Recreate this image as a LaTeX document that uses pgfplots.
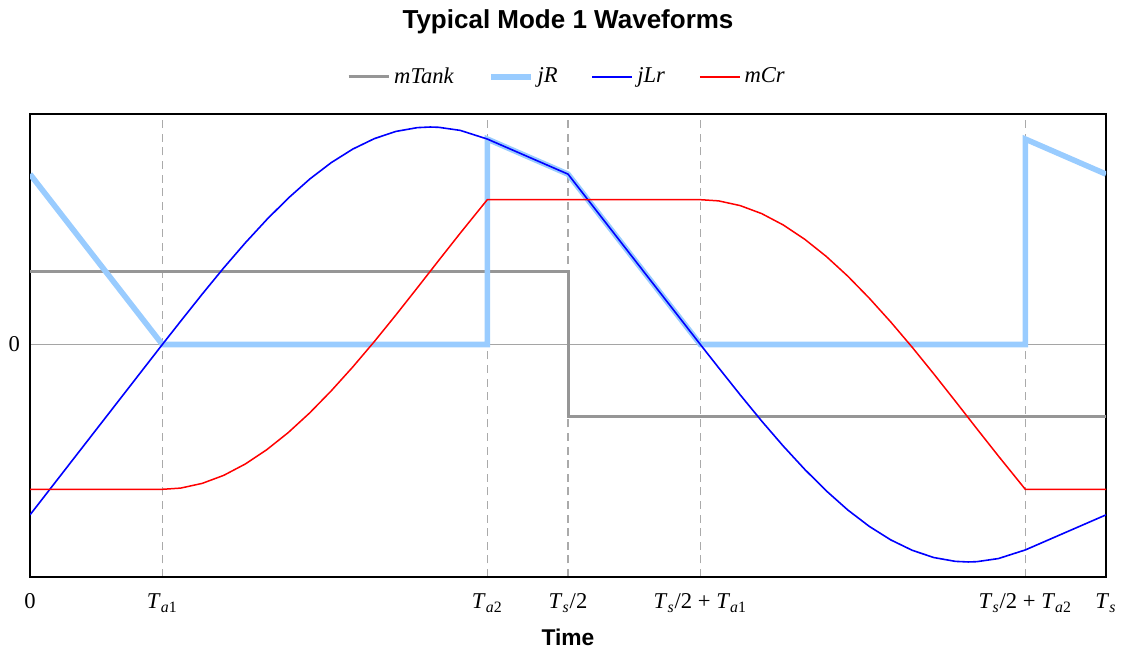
\documentclass[border=0pt]{standalone}
\usepackage{pgfplots}
\pgfplotsset{compat=1.18}
\usepackage{fontspec}
\setmainfont{Liberation Serif}
\newfontfamily\arialfont{Liberation Sans}
\definecolor{tankgray}{RGB}{150,150,150}
\definecolor{jrblue}{RGB}{153,204,255}
\definecolor{zerogray}{RGB}{165,165,165}
\definecolor{gridgray}{RGB}{170,170,170}
\newcommand{\Ts}{\textit{T}\textsubscript{\textit{s}}}
\newcommand{\Ta}[1]{\textit{T}\textsubscript{\textit{a}#1}}
\begin{document}
\begin{tikzpicture}
\begin{axis}[
  name=ax, scale only axis, width=538pt, height=231.5pt,
  xmin=0, xmax=1, ymin=-232, ymax=230,
  axis line style={black, line width=0.8pt},
  xtick={0,0.123,0.425,0.5,0.623,0.925,1},
  xticklabels={0, \Ta{1}, \Ta{2}, \Ts/2, \Ts/2 + \Ta{1}, \Ts/2 + \Ta{2}, \Ts},
  ytick={0}, yticklabels={0},
  major tick length=0,
  xmajorgrids, ymajorgrids,
  x grid style={gridgray, line width=0.8pt, dash pattern=on 4pt off 2.8pt},
  y grid style={zerogray, line width=0.7pt},
  tick label style={font=\fontsize{11.3}{13}\selectfont},
  xticklabel style={anchor=base, yshift=-16pt},
  yticklabel style={xshift=-1.5pt},
  xlabel={Time},
  xlabel style={font=\arialfont\bfseries\fontsize{11.4}{13}\selectfont,
    at={(axis description cs:0.5,0)}, anchor=center, yshift=-30pt},
  legend columns=4,
  legend style={at={(0.5,1.08)}, anchor=center, draw=none, fill=none,
    font=\fontsize{11.3}{13}\selectfont,
    /tikz/every even column/.append style={column sep=15pt}},
  legend image code/.code={\draw[#1] (0pt,0pt) -- (20pt,0pt);},
]
\addplot[tankgray, line width=1.5pt] coordinates {(0,73) (0.5,73) (0.5,-72) (1,-72)};
\addplot[jrblue, line width=2.8pt] coordinates {
  (0,170) (0.123,0) (0.425,0) (0.425,205) (0.5,170)
  (0.623,0) (0.925,0) (0.925,205) (1,170)};
\addplot[blue, line width=0.8pt] coordinates {
  (0,-170) (0.123,0) (0.14,23.2) (0.16,50.2) (0.18,76.4) (0.20,101.3)
  (0.22,124.6) (0.24,146.0) (0.26,165.1) (0.28,181.5) (0.30,195.0)
  (0.32,205.4) (0.34,212.6) (0.36,216.4) (0.372,217.0) (0.38,216.7)
  (0.40,213.6) (0.425,205.0) (0.5,170)
  (0.623,0) (0.64,-23.2) (0.66,-50.2) (0.68,-76.4) (0.70,-101.3)
  (0.72,-124.6) (0.74,-146.0) (0.76,-165.1) (0.78,-181.5) (0.80,-195.0)
  (0.82,-205.4) (0.84,-212.6) (0.86,-216.4) (0.872,-217.0) (0.88,-216.7)
  (0.90,-213.6) (0.925,-205.0) (1,-170)};
\addplot[red, line width=0.75pt] coordinates {
  (0,-144.5) (0.123,-144.5) (0.14,-143.3) (0.16,-138.6) (0.18,-130.6)
  (0.20,-119.3) (0.22,-105.0) (0.24,-87.9) (0.26,-68.2) (0.28,-46.2)
  (0.30,-22.4) (0.32,2.9) (0.34,29.4) (0.36,56.6) (0.38,84.1)
  (0.40,111.3) (0.425,144.5) (0.623,144.5) (0.64,143.3) (0.66,138.6)
  (0.68,130.6) (0.70,119.3) (0.72,105.0) (0.74,87.9) (0.76,68.2)
  (0.78,46.2) (0.80,22.4) (0.82,-2.9) (0.84,-29.4) (0.86,-56.6)
  (0.88,-84.1) (0.90,-111.3) (0.925,-144.5) (1,-144.5)};
\legend{\textit{mTank}, \textit{jR}, \textit{jLr}, \textit{mCr}}
\end{axis}
\node[font=\arialfont\bfseries\fontsize{13}{15}\selectfont] at ([yshift=46pt]ax.north) {Typical Mode 1 Waveforms};
\pgfresetboundingbox
\path ([shift={(-15pt,-38pt)}]ax.south west) rectangle ([shift={(9.5pt,57pt)}]ax.north east);
\end{tikzpicture}
\end{document}
